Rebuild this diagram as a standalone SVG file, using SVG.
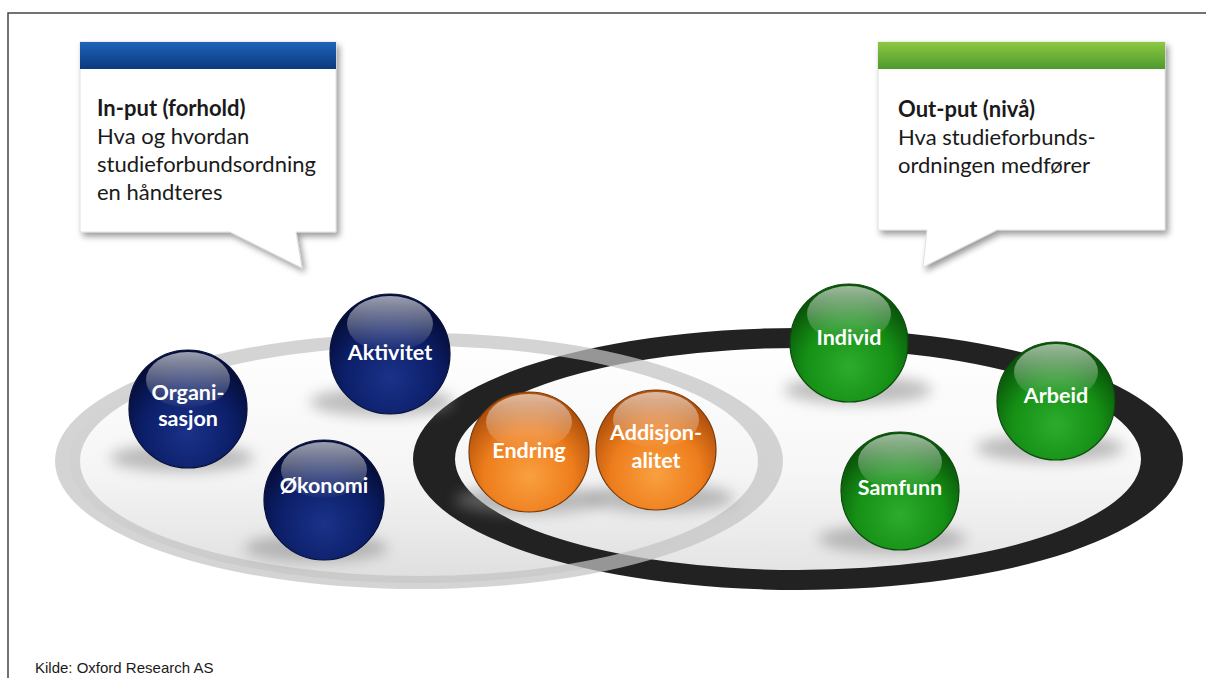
<svg xmlns="http://www.w3.org/2000/svg" width="1206" height="678" viewBox="0 0 1206 678">
<defs>
<style>
.callout{fill:#ffffff;stroke:#d8d8d8;stroke-width:0.8;filter:url(#boxShadow)}
.ctext{font-family:Lato,"Open Sans","Liberation Sans",sans-serif;font-size:22px;fill:#1a1a1a}
.ctitle{font-weight:bold}
.label{font-family:Lato,"Open Sans","Liberation Sans",sans-serif;font-size:21.5px;font-weight:bold;fill:#ffffff;text-anchor:middle}
.navy{fill:url(#gNavy);stroke:#06103a;stroke-width:1.2}
.orange{fill:url(#gOrange);stroke:#7a3a0a;stroke-width:1.2}
.green{fill:url(#gGreen);stroke:#0a4a0a;stroke-width:1.2}
.gloss{fill:url(#gGloss)}
.shadow{fill:#8a8a8a;opacity:0.55;filter:url(#blur)}
.frame{fill:none;stroke:#444;stroke-width:1.5}
</style>
<filter id="boxShadow" x="-10%" y="-10%" width="125%" height="130%">
<feDropShadow dx="3" dy="4" stdDeviation="3" flood-color="#000" flood-opacity="0.4"/>
</filter>
<filter id="blur" x="-30%" y="-100%" width="160%" height="300%">
<feGaussianBlur stdDeviation="7"/>
</filter>
<linearGradient id="gBlueBar" x1="0" y1="0" x2="0" y2="1">
<stop offset="0" stop-color="#1f63b8"/>
<stop offset="1" stop-color="#0a3a7e"/>
</linearGradient>
<linearGradient id="gGreenBar" x1="0" y1="0" x2="0" y2="1">
<stop offset="0" stop-color="#8fc843"/>
<stop offset="1" stop-color="#4c9a2c"/>
</linearGradient>
<linearGradient id="gFloor" x1="0" y1="0" x2="0" y2="1">
<stop offset="0" stop-color="#ffffff"/>
<stop offset="0.55" stop-color="#f5f5f5"/>
<stop offset="1" stop-color="#dedede"/>
</linearGradient>
<radialGradient id="gNavy" cx="50%" cy="70%" r="62%">
<stop offset="0" stop-color="#1a3289"/>
<stop offset="0.6" stop-color="#0c1f6a"/>
<stop offset="1" stop-color="#050e3a"/>
</radialGradient>
<radialGradient id="gOrange" cx="50%" cy="70%" r="62%">
<stop offset="0" stop-color="#f9a040"/>
<stop offset="0.6" stop-color="#ee7d1c"/>
<stop offset="1" stop-color="#b2520c"/>
</radialGradient>
<radialGradient id="gGreen" cx="50%" cy="70%" r="62%">
<stop offset="0" stop-color="#2cac2c"/>
<stop offset="0.6" stop-color="#159015"/>
<stop offset="1" stop-color="#0a560a"/>
</radialGradient>
<linearGradient id="gGloss" x1="0" y1="0" x2="0" y2="1">
<stop offset="0" stop-color="#ffffff" stop-opacity="0.6"/>
<stop offset="1" stop-color="#ffffff" stop-opacity="0.02"/>
</linearGradient>
</defs>

<rect width="1206" height="678" fill="#ffffff"/>
<path class="frame" d="M8,678 V13 H1206"/>

<g id="ring-input-fill">
<ellipse cx="419" cy="461" rx="350" ry="122" fill="url(#gFloor)"/>
</g>
<g id="ring-output">
<ellipse cx="798" cy="459" rx="360" ry="120" fill="url(#gFloor)" opacity="0.85"/>
<path fill="#222222" fill-rule="evenodd" d="M413,459 a385,131 0 1,0 770,0 a385,131 0 1,0 -770,0 Z M455,459 a343,111 0 1,0 686,0 a343,111 0 1,0 -686,0 Z"/>
</g>
<g id="ring-input">
<path fill="#c4c4c4" fill-opacity="0.72" fill-rule="evenodd" d="M55,461 a364,128 0 1,0 728,0 a364,128 0 1,0 -728,0 Z M80,461 a339,115 0 1,0 678,0 a339,115 0 1,0 -678,0 Z"/>
</g>

<g id="callout-input">
<path class="callout" d="M80,42 H336 V232 H296 L302,268 L230,232 H80 Z"/>
<rect x="80" y="42" width="256" height="27" fill="url(#gBlueBar)"/>
<text class="ctext" x="97" y="116"><tspan class="ctitle">In-put (forhold)</tspan><tspan x="97" y="144">Hva og hvordan</tspan><tspan x="97" y="172">studieforbundsordning</tspan><tspan x="97" y="200">en håndteres</tspan></text>
</g>

<g id="callout-output">
<path class="callout" d="M878,42 H1165 V230 H997 L923,267 L927,230 H878 Z"/>
<rect x="878" y="42" width="287" height="27" fill="url(#gGreenBar)"/>
<text class="ctext" x="898" y="117"><tspan class="ctitle">Out-put (nivå)</tspan><tspan x="898" y="145">Hva studieforbunds-</tspan><tspan x="898" y="173">ordningen medfører</tspan></text>
</g>

<g id="node-organisasjon">
<ellipse class="shadow" cx="182" cy="458" rx="72" ry="14"/>
<circle class="navy" cx="188" cy="409" r="59"/>
<ellipse class="gloss" cx="188" cy="380" rx="42" ry="28"/>
<text class="label" x="188" y="400">Organi-</text>
<text class="label" x="188" y="426">sasjon</text>
</g>

<g id="node-aktivitet">
<ellipse class="shadow" cx="382" cy="402" rx="72" ry="14"/>
<circle class="navy" cx="390" cy="354" r="60"/>
<ellipse class="gloss" cx="390" cy="324" rx="43" ry="28"/>
<text class="label" x="390" y="360">Aktivitet</text>
</g>

<g id="node-okonomi">
<ellipse class="shadow" cx="316" cy="548" rx="72" ry="14"/>
<circle class="navy" cx="324" cy="500" r="60"/>
<ellipse class="gloss" cx="324" cy="470" rx="43" ry="28"/>
<text class="label" x="324" y="493">Økonomi</text>
</g>

<g id="node-endring">
<ellipse class="shadow" cx="529" cy="500" rx="74" ry="14"/>
<circle class="orange" cx="529" cy="452" r="60"/>
<ellipse class="gloss" cx="529" cy="422" rx="43" ry="28"/>
<text class="label" x="529" y="458">Endring</text>
</g>

<g id="node-addisjonalitet">
<ellipse class="shadow" cx="660" cy="498" rx="74" ry="14"/>
<circle class="orange" cx="656" cy="450" r="60"/>
<ellipse class="gloss" cx="656" cy="420" rx="43" ry="28"/>
<text class="label" x="656" y="440">Addisjon-</text>
<text class="label" x="656" y="468">alitet</text>
</g>

<g id="node-individ">
<ellipse class="shadow" cx="858" cy="390" rx="74" ry="14"/>
<circle class="green" cx="849" cy="343" r="59"/>
<ellipse class="gloss" cx="849" cy="314" rx="42" ry="28"/>
<text class="label" x="849" y="345">Individ</text>
</g>

<g id="node-arbeid">
<ellipse class="shadow" cx="1050" cy="448" rx="74" ry="14"/>
<circle class="green" cx="1056" cy="401" r="59"/>
<ellipse class="gloss" cx="1056" cy="372" rx="42" ry="28"/>
<text class="label" x="1056" y="403">Arbeid</text>
</g>

<g id="node-samfunn">
<ellipse class="shadow" cx="892" cy="539" rx="74" ry="14"/>
<circle class="green" cx="900" cy="491" r="59"/>
<ellipse class="gloss" cx="900" cy="462" rx="42" ry="28"/>
<text class="label" x="900" y="495">Samfunn</text>
</g>

<g id="connectors"/>

<text x="35" y="673" font-family="'Liberation Sans Narrow','Liberation Sans',Arial,sans-serif" font-size="15" fill="#1a1a1a">Kilde: Oxford Research AS</text>
</svg>
